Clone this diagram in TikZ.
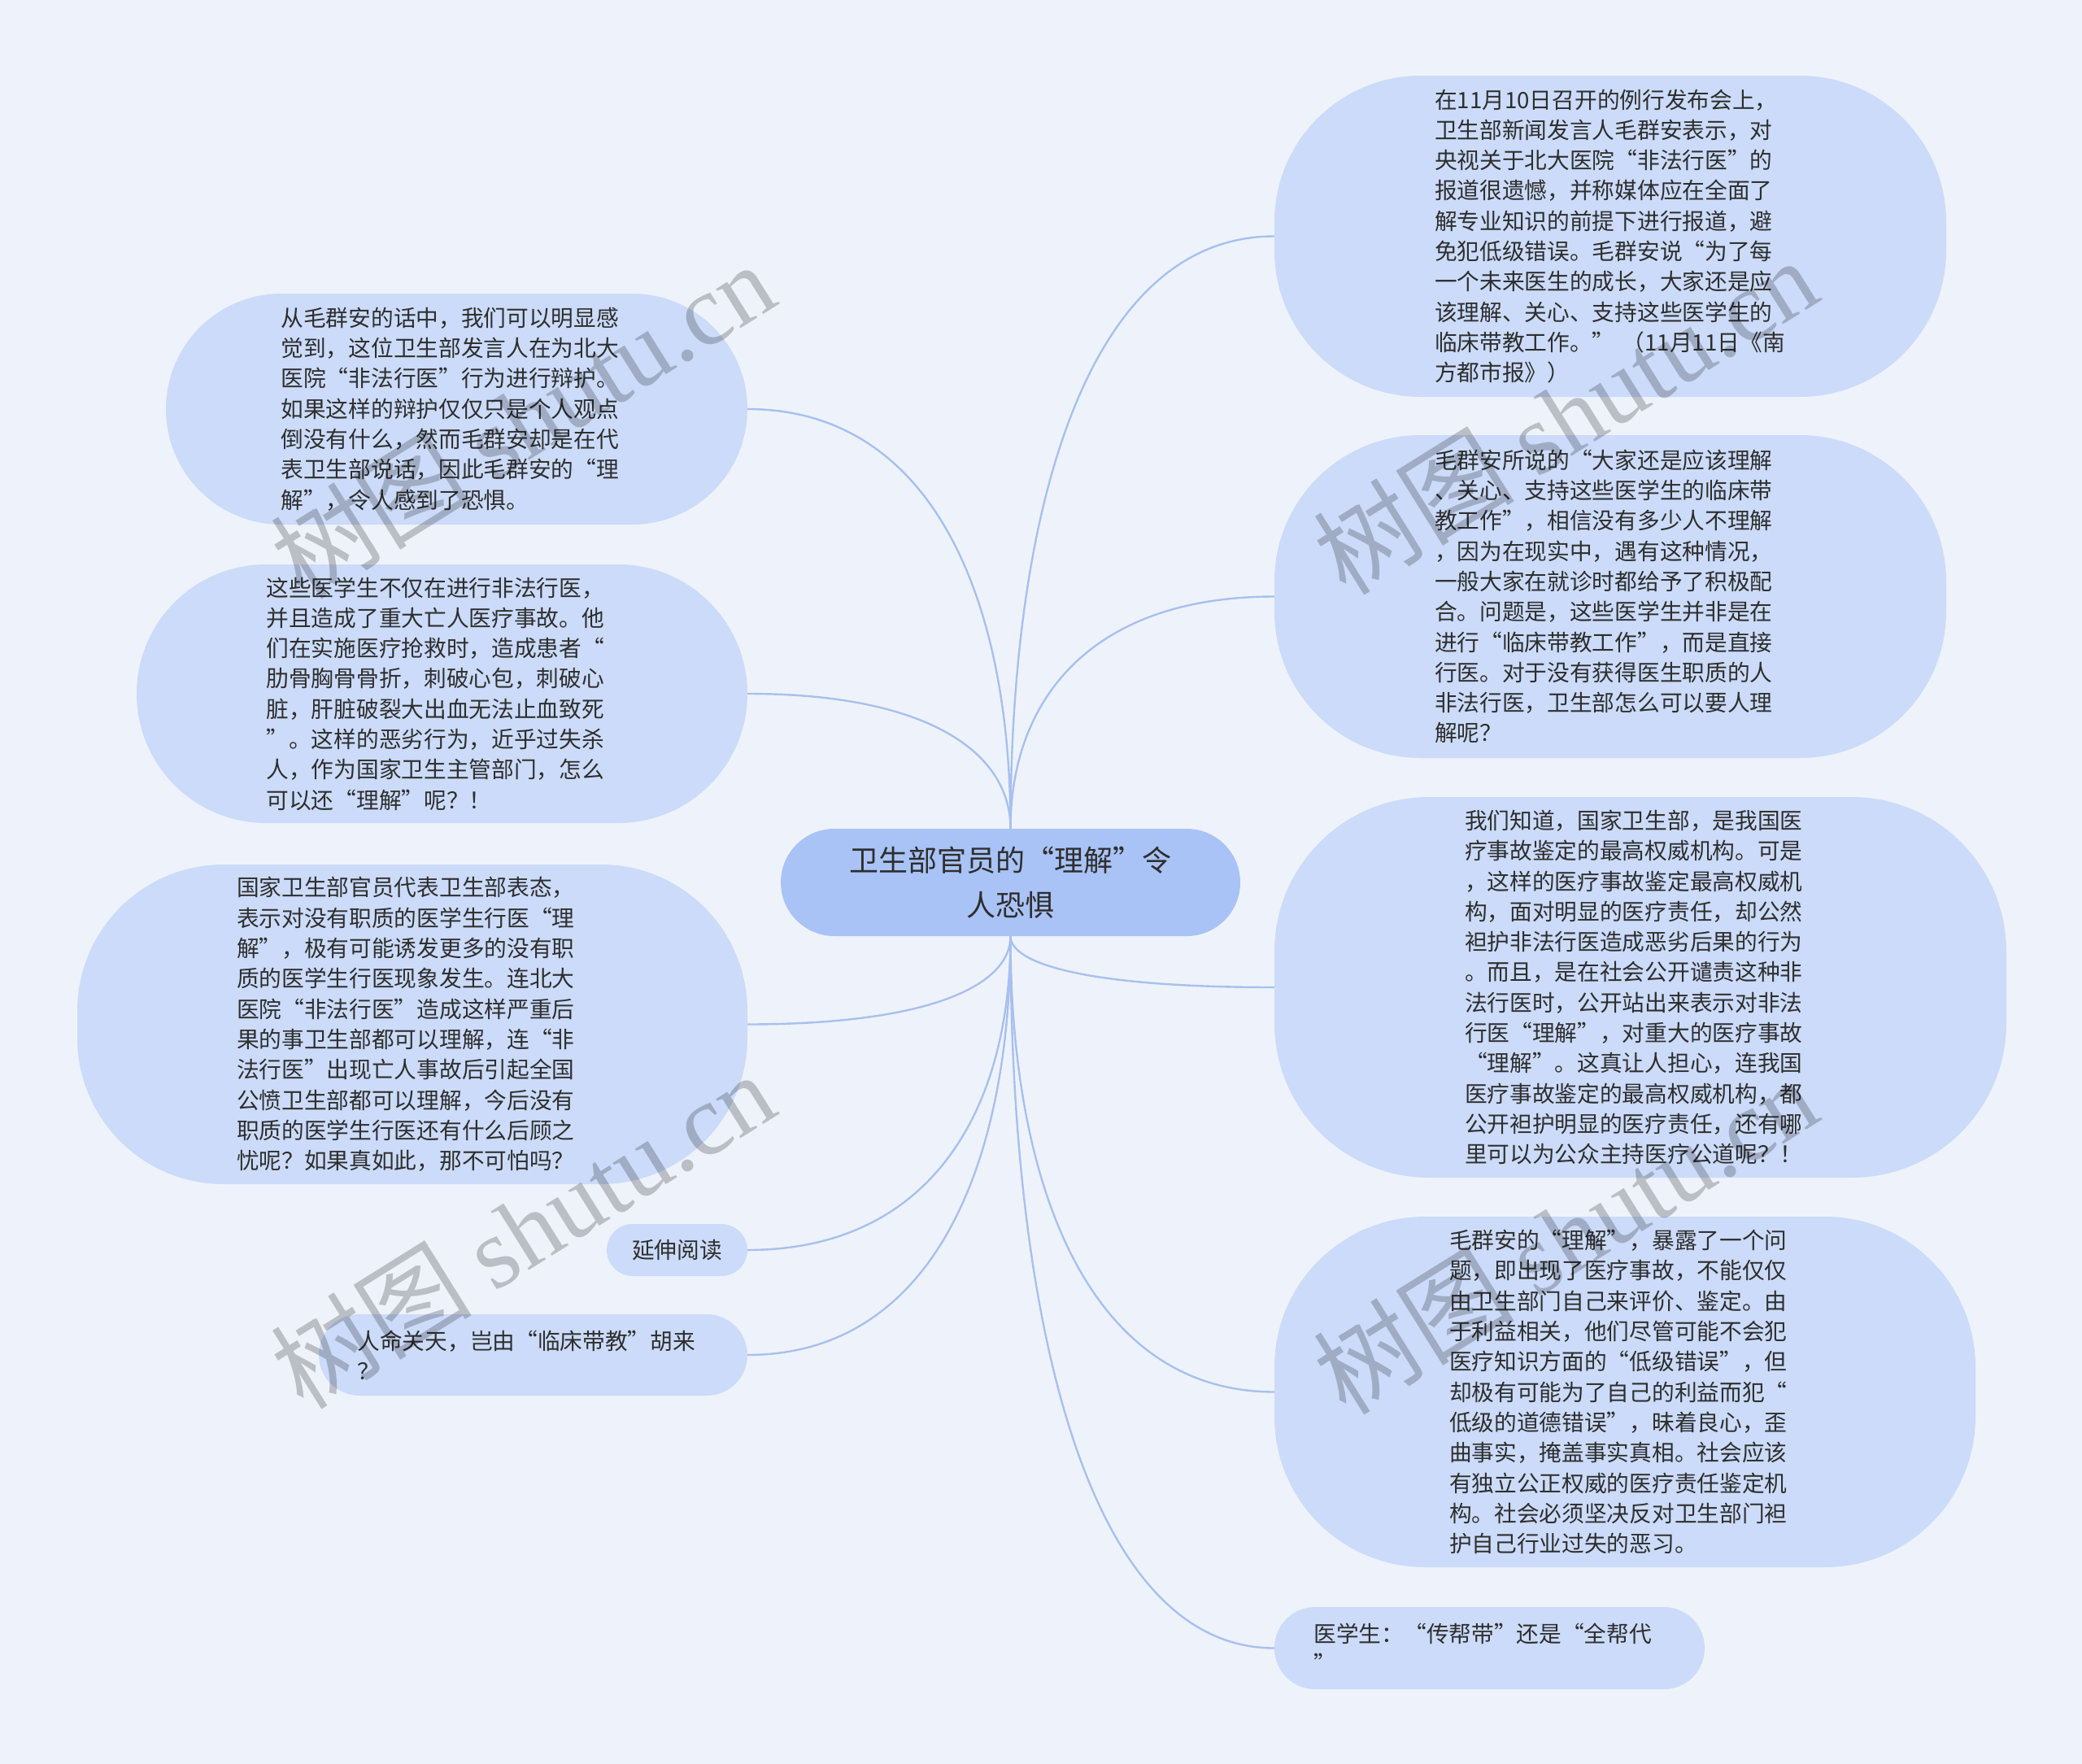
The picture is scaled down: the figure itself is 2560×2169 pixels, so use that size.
\documentclass[tikz,border=0pt]{standalone}
\usepackage{fontspec}
\setmainfont{Noto Sans CJK SC}
\newfontfamily\wmserif{Liberation Serif}
\newfontfamily\wmcjk{Noto Sans CJK SC}
\usetikzlibrary{calc}
\pgfdeclarelayer{bottomlayer}
\pgfdeclarelayer{linelayer}
\pgfsetlayers{bottomlayer,linelayer,main}
\definecolor{bgc}{HTML}{EEF3FB}
\definecolor{nodec}{HTML}{CBDBF9}
\definecolor{mainc}{HTML}{A9C3F7}
\definecolor{linec}{HTML}{A8C0EF}
\definecolor{txtc}{HTML}{2E2E2E}
\begin{document}
\begin{tikzpicture}[x=1pt,y=-1pt,
  shortnode/.style={fill=nodec, text=txtc, align=left, inner sep=0pt,
    font=\fontsize{27.7pt}{37.3pt}\selectfont},
  topic/.style={shortnode, text width=432pt},
  mainnode/.style={fill=mainc, text=txtc, align=center, inner sep=0pt,
    font=\fontsize{36pt}{55pt}\selectfont},
  branch/.style={draw=linec, line width=2.4pt,
    to path={.. controls ($(\tikztostart)!0.55!(\tikztostart|-\tikztotarget)$) and ($(\tikztostart|-\tikztotarget)!0.3!(\tikztotarget)$) .. (\tikztotarget)}},
  wm/.style={text=black, text opacity=0.21, inner sep=0pt, font=\fontsize{124pt}{130pt}\selectfont}
]
\useasboundingbox (0,0) rectangle (2560,2169);
\begin{pgfonlayer}{bottomlayer}
\fill[bgc] (0,0) rectangle (2560,2169);
\end{pgfonlayer}

% central
\node[mainnode, minimum width=565pt, minimum height=132pt, rounded corners=66pt] (c) at (1242.5,1085) {卫生部官员的“理解”令\\人恐惧};

% right
\node[topic, minimum width=826pt, minimum height=395pt, rounded corners=180pt] (r1) at (1980,290.5) {在11月10日召开的例行发布会上，\\卫生部新闻发言人毛群安表示，对\\央视关于北大医院“非法行医”的\\报道很遗憾，并称媒体应在全面了\\解专业知识的前提下进行报道，避\\免犯低级错误。毛群安说“为了每\\一个未来医生的成长，大家还是应\\该理解、关心、支持这些医学生的\\临床带教工作。”~（11月11日《南\\方都市报》）};

\node[topic, minimum width=826pt, minimum height=397pt, rounded corners=180pt] (r2) at (1980,733.5) {毛群安所说的“大家还是应该理解\\、关心、支持这些医学生的临床带\\教工作”，相信没有多少人不理解\\，因为在现实中，遇有这种情况，\\一般大家在就诊时都给予了积极配\\合。问题是，这些医学生并非是在\\进行“临床带教工作”，而是直接\\行医。对于没有获得医生职质的人\\非法行医，卫生部怎么可以要人理\\解呢？};

\node[topic, minimum width=900pt, minimum height=468pt, rounded corners=190pt] (r3) at (2017,1214) {我们知道，国家卫生部，是我国医\\疗事故鉴定的最高权威机构。可是\\，这样的医疗事故鉴定最高权威机\\构，面对明显的医疗责任，却公然\\袒护非法行医造成恶劣后果的行为\\。而且，是在社会公开谴责这种非\\法行医时，公开站出来表示对非法\\行医“理解”，对重大的医疗事故\\“理解”。这真让人担心，连我国\\医疗事故鉴定的最高权威机构，都\\公开袒护明显的医疗责任，还有哪\\里可以为公众主持医疗公道呢？！};

\node[topic, minimum width=862pt, minimum height=431pt, rounded corners=185pt] (r4) at (1998,1711.5) {毛群安的“理解”，暴露了一个问\\题，即出现了医疗事故，不能仅仅\\由卫生部门自己来评价、鉴定。由\\于利益相关，他们尽管可能不会犯\\医疗知识方面的“低级错误”，但\\却极有可能为了自己的利益而犯“\\低级的道德错误”，昧着良心，歪\\曲事实，掩盖事实真相。社会应该\\有独立公正权威的医疗责任鉴定机\\构。社会必须坚决反对卫生部门袒\\护自己行业过失的恶习。};

\node[topic, minimum width=529pt, minimum height=101pt, rounded corners=50pt] (r5) at (1831.5,2026.5) {医学生：“传帮带”还是“全帮代\\”};

% left
\node[topic, minimum width=715pt, minimum height=284pt, rounded corners=142pt] (l1) at (561.5,503) {从毛群安的话中，我们可以明显感\\觉到，这位卫生部发言人在为北大\\医院“非法行医”行为进行辩护。\\如果这样的辩护仅仅只是个人观点\\倒没有什么，然而毛群安却是在代\\表卫生部说话，因此毛群安的“理\\解”，令人感到了恐惧。};

\node[topic, minimum width=751pt, minimum height=318pt, rounded corners=159pt] (l2) at (543.5,853) {这些医学生不仅在进行非法行医，\\并且造成了重大亡人医疗事故。他\\们在实施医疗抢救时，造成患者“\\肋骨胸骨骨折，刺破心包，刺破心\\脏，肝脏破裂大出血无法止血致死\\”。这样的恶劣行为，近乎过失杀\\人，作为国家卫生主管部门，怎么\\可以还“理解”呢？！};

\node[topic, minimum width=824pt, minimum height=393pt, rounded corners=180pt] (l3) at (507,1259.5) {国家卫生部官员代表卫生部表态，\\表示对没有职质的医学生行医“理\\解”，极有可能诱发更多的没有职\\质的医学生行医现象发生。连北大\\医院“非法行医”造成这样严重后\\果的事卫生部都可以理解，连“非\\法行医”出现亡人事故后引起全国\\公愤卫生部都可以理解，今后没有\\职质的医学生行医还有什么后顾之\\忧呢？如果真如此，那不可怕吗？};

\node[shortnode, minimum width=173pt, minimum height=64pt, rounded corners=32pt] (l4) at (832.5,1537) {延伸阅读};

\node[topic, minimum width=527pt, minimum height=100pt, rounded corners=50pt] (l5) at (655.5,1666) {人命关天，岂由“临床带教”胡来\\？};

% connectors
\begin{pgfonlayer}{linelayer}
\draw[branch] (c.north) to (r1.west);
\draw[branch] (c.north) to (r2.west);
\draw[branch] (c.south) to (r3.west);
\draw[branch] (c.south) to (r4.west);
\draw[branch] (c.south) to (r5.west);
\draw[branch] (c.north) to (l1.east);
\draw[branch] (c.north) to (l2.east);
\draw[branch] (c.south) to (l3.east);
\draw[branch] (c.south) to (l4.east);
\draw[branch] (c.south) to (l5.east);
\end{pgfonlayer}

% watermarks
\node[wm, rotate=32] (w1) at (642,516) {{\wmcjk 树图} {\wmserif shutu.cn}};
\node[wm, rotate=32] (w2) at (642,1512) {{\wmcjk 树图} {\wmserif shutu.cn}};
\node[wm, rotate=32] (w3) at (1924,511) {{\wmcjk 树图} {\wmserif shutu.cn}};
\node[wm, rotate=32] (w4) at (1924,1519) {{\wmcjk 树图} {\wmserif shutu.cn}};
\end{tikzpicture}
\end{document}
